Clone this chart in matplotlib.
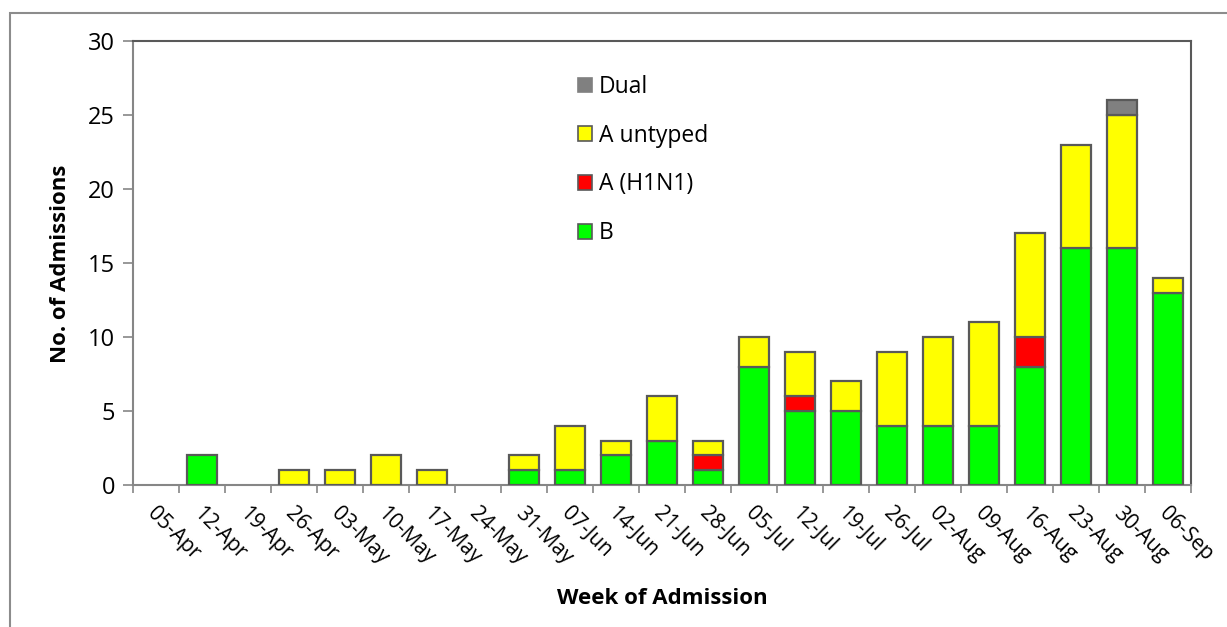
import matplotlib
matplotlib.use("Agg")
import matplotlib.pyplot as plt
import matplotlib.patches as mpatches
import numpy as np

weeks = ["05-Apr", "12-Apr", "19-Apr", "26-Apr", "03-May", "10-May", "17-May", "24-May",
         "31-May", "07-Jun", "14-Jun", "21-Jun", "28-Jun", "05-Jul", "12-Jul", "19-Jul",
         "26-Jul", "02-Aug", "09-Aug", "16-Aug", "23-Aug", "30-Aug", "06-Sep"]
b_vals =       [0, 2, 0, 0, 0, 0, 0, 0, 1, 1, 2, 3, 1, 8, 5, 5, 4, 4, 4, 8, 16, 16, 13]
h1n1_vals =    [0, 0, 0, 0, 0, 0, 0, 0, 0, 0, 0, 0, 1, 0, 1, 0, 0, 0, 0, 2, 0, 0, 0]
untyped_vals = [0, 0, 0, 1, 1, 2, 1, 0, 1, 3, 1, 3, 1, 2, 3, 2, 5, 6, 7, 7, 7, 9, 1]
dual_vals =    [0, 0, 0, 0, 0, 0, 0, 0, 0, 0, 0, 0, 0, 0, 0, 0, 0, 0, 0, 0, 0, 1, 0]

series = [("B", b_vals, "#00FF00"),
          ("A (H1N1)", h1n1_vals, "#FF0000"),
          ("A untyped", untyped_vals, "#FFFF00"),
          ("Dual", dual_vals, "#808080")]

plt.rcParams['font.family'] = ['Open Sans', 'DejaVu Sans']

W, H = 1227, 627
fig = plt.figure(figsize=(W / 100, H / 100), dpi=100)
ax = fig.add_axes([133 / W, 1 - 485 / H, (1191 - 133) / W, (485 - 41) / H])

x = np.arange(len(weeks))
bottom = np.zeros(len(weeks))
handles = []
for name, vals, col in series:
    v = np.array(vals, dtype=float)
    mask = v > 0
    ax.bar(x[mask], v[mask], bottom=bottom[mask], width=0.667, color=col,
           edgecolor="#595959", linewidth=1.6, zorder=3)
    bottom += v
    handles.append(mpatches.Patch(facecolor=col, edgecolor="#595959" if name != "Dual" else col,
                                  linewidth=1.2, label=name))

ax.set_xlim(-0.5, len(weeks) - 0.5)
ax.set_ylim(0, 30)
ax.set_yticks(np.arange(0, 31, 5))
ax.tick_params(axis='y', labelsize=17, length=7, width=1.2, color="#868686", pad=6, direction='out')

ax.set_xticks(x)
ax.set_xticklabels([])
ax.tick_params(axis='x', which='major', length=0)
ax.set_xticks(np.arange(-0.5, len(weeks), 1), minor=True)
ax.tick_params(axis='x', which='minor', length=6, width=1.2, color="#868686", direction='out')

for i, lab in enumerate(weeks):
    ax.annotate(lab, xy=(i, 0), xycoords='data', xytext=(2, -18), textcoords='offset pixels',
                rotation=-45, ha='left', va='top', rotation_mode='anchor', fontsize=15)

for side in ['left', 'bottom']:
    ax.spines[side].set_color("#868686")
    ax.spines[side].set_linewidth(1.5)
for side in ['top', 'right']:
    ax.spines[side].set_color("#595959")
    ax.spines[side].set_linewidth(1.5)

fig.text(60 / W, 1 - 264 / H, "No. of Admissions", rotation=90, ha='center', va='center',
         fontsize=16, fontweight='bold')
fig.text(662 / W, 1 - 598 / H, "Week of Admission", ha='center', va='center',
         fontsize=16, fontweight='bold')

leg = fig.legend(handles=handles[::-1], loc='upper left',
                 bbox_to_anchor=(578 / W, 1 - 75 / H), frameon=False, fontsize=16.5,
                 handlelength=0.62, handleheight=0.62, handletextpad=0.3,
                 labelspacing=1.08, borderaxespad=0, borderpad=0)

frame = mpatches.Rectangle((10 / W, -0.1), 1.2, 1.1 - 13 / H, transform=fig.transFigure,
                           fill=False, edgecolor="#8c8c8c", linewidth=1.5)
fig.add_artist(frame)

fig.savefig("out.png", dpi=100, facecolor="white")
